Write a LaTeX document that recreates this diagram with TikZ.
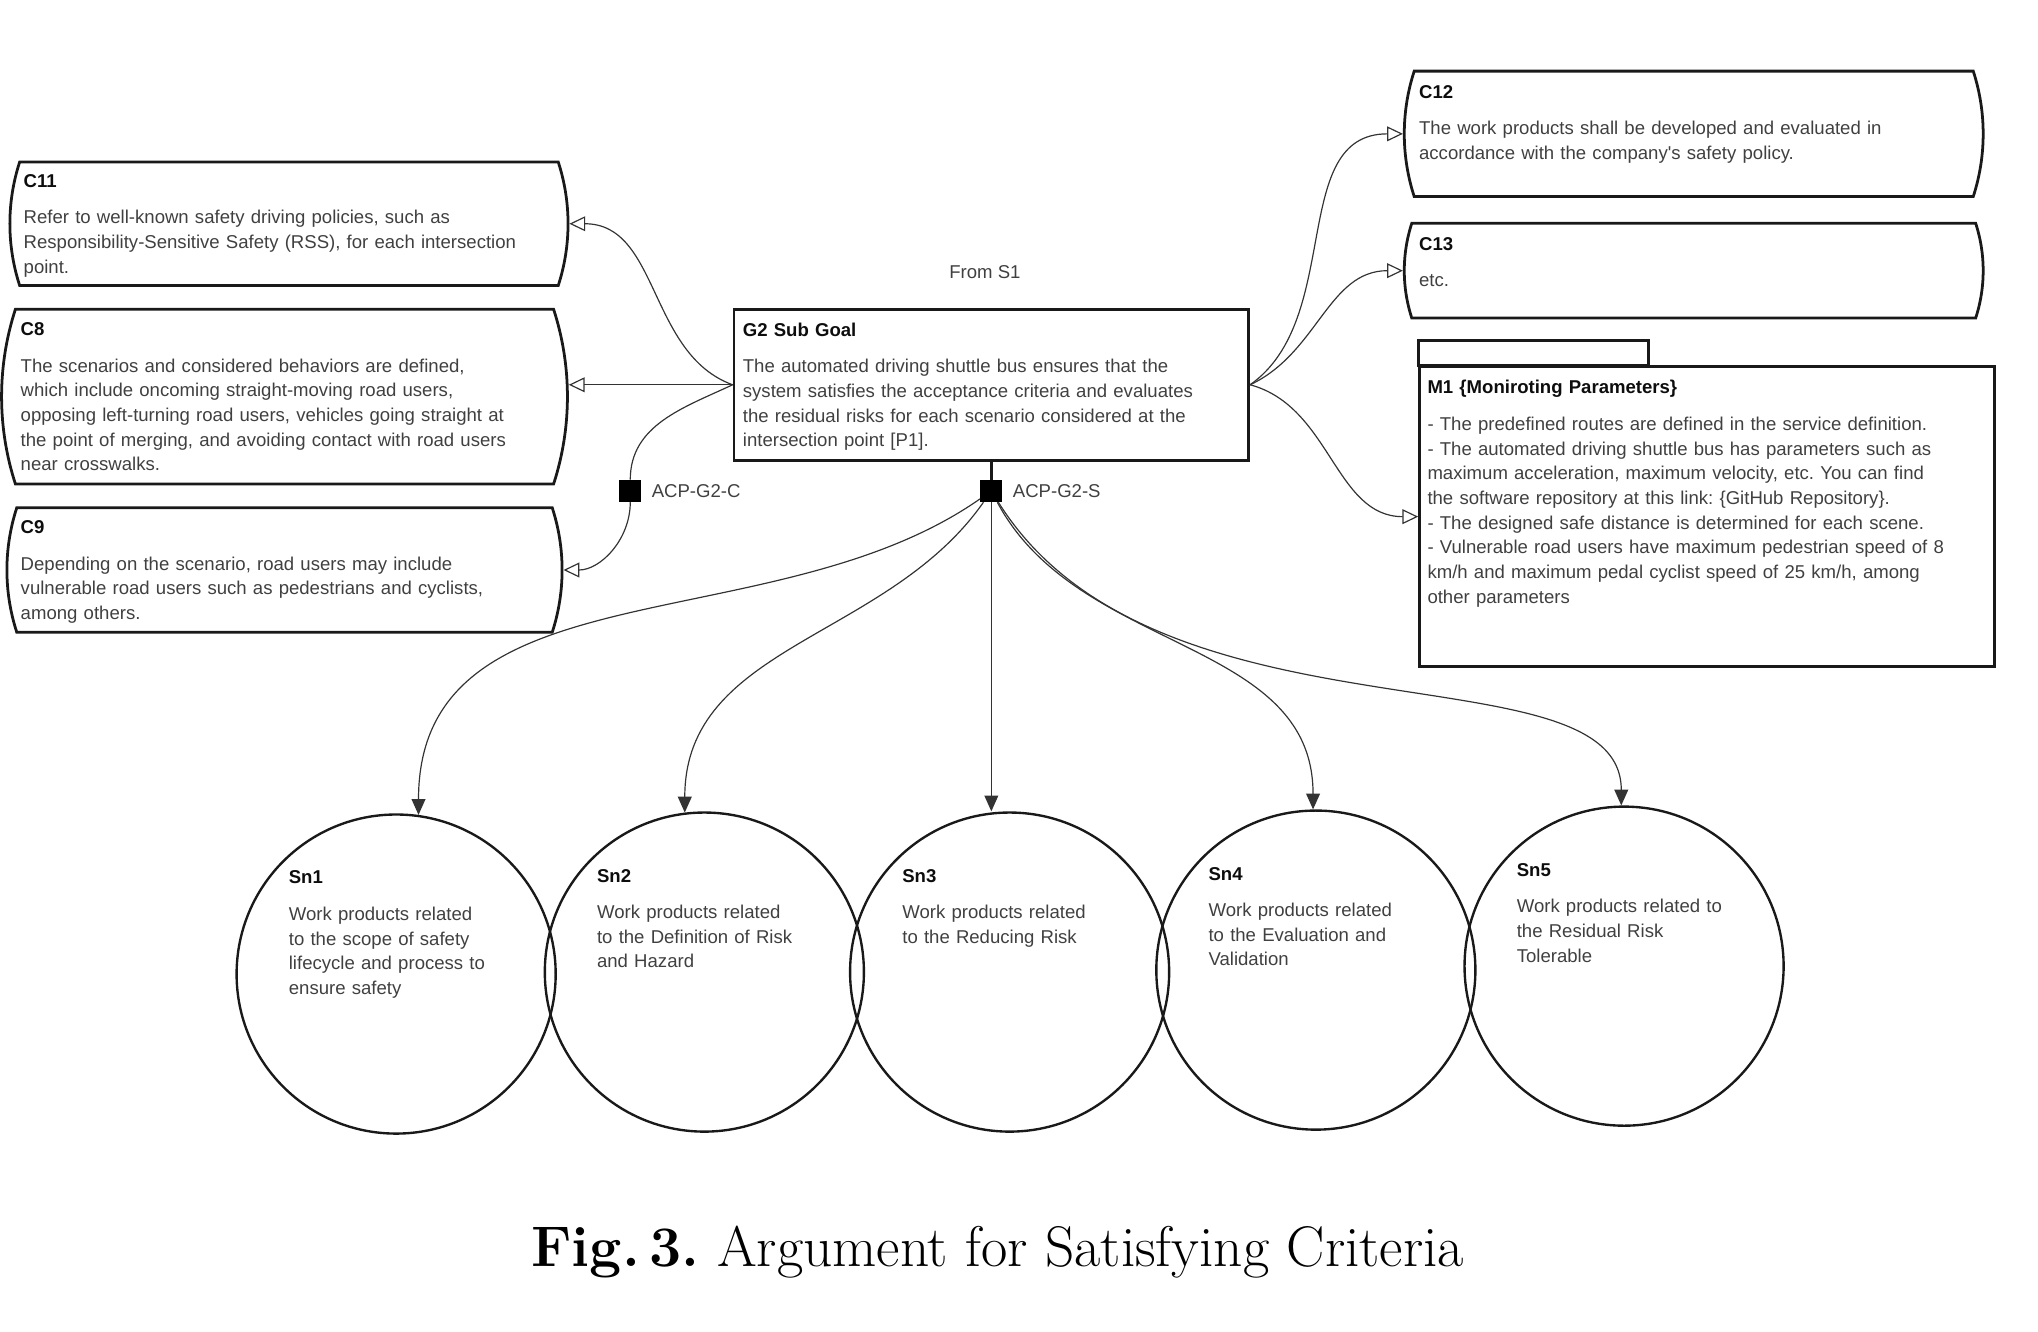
\documentclass[tikz,border=0pt]{standalone}
\usepackage{fontspec}
\usetikzlibrary{positioning,shapes.misc,arrows.meta}
\newfontfamily\gsnfont{Liberation Sans}
\newcommand{\gsnbody}[3][-12.5pt]{{\color{black!95}\bfseries #2}\\[6pt]#3\\[#1]\mbox{}}
\frenchspacing

\tikzset{every node/.style={font=\gsnfont\fontsize{9.4}{12.5}\selectfont, text=black!75}}
\tikzstyle{ctx}=[draw=black!90, line width=1.4pt, rounded rectangle, rounded rectangle arc length=36, inner xsep=0pt, inner ysep=3pt, align=left]
\tikzstyle{goal}=[draw=black!90, line width=1.4pt, rectangle, inner xsep=4.5pt, inner ysep=3pt, align=left]
\tikzstyle{sol}=[draw=black!90, line width=1.2pt, circle, minimum size=161.5pt, inner sep=0pt]
\tikzstyle{soltxt}=[anchor=north west, inner sep=0pt, text width=120pt, align=left]
\tikzstyle{acp}=[fill=black, rectangle, minimum size=11pt, inner sep=0pt]
\tikzstyle{lbl}=[inner sep=1pt]
\tikzstyle{incontext}=[draw=black!80, line width=0.6pt, -{Triangle[open, length=8pt, width=7.5pt]}]
\tikzstyle{support}=[draw=black!80, line width=0.6pt, -{Triangle[length=8pt, width=7pt]}]

\begin{document}
\begin{tikzpicture}[x=0.5pt, y=0.5pt]
\useasboundingbox (0,0) rectangle (2063,-1348);
\node [goal, minimum width=260.5pt, minimum height=76.5pt, text width=251.5pt] (g2) at (1003.5,-389.5)
    {\gsnbody{G2 Sub Goal}{The automated driving shuttle bus ensures that the\\system satisfies the acceptance criteria and evaluates\\the residual risks for each scenario considered at the\\intersection point [P1].}};
\node (from) at (997,-275) {From S1};

\node [ctx, minimum width=282.5pt, minimum height=62.5pt, text width=268.5pt] (c11) at (292.5,-226.5)
    {\gsnbody{C11}{Refer to well-known safety driving policies, such as\\Responsibility-Sensitive Safety (RSS), for each intersection\\point.}};
\node [ctx, minimum width=281pt, minimum height=88.5pt, text width=267pt] (c8) at (288,-401.5)
    {\gsnbody{C8}{The scenarios and considered behaviors are defined,\\which include oncoming straight-moving road users,\\opposing left-turning road users, vehicles going straight at\\the point of merging, and avoiding contact with road users\\near crosswalks.}};
\node [ctx, minimum width=281pt, minimum height=63pt, text width=267pt] (c9) at (288,-577)
    {\gsnbody{C9}{Depending on the scenario, road users may include\\vulnerable road users such as pedestrians and cyclists,\\among others.}};

\node [ctx, minimum width=293pt, minimum height=63.5pt, text width=278pt] (c12) at (1714.5,-135.5)
    {\gsnbody[-0.9pt]{C12}{The work products shall be developed and evaluated in\\accordance with the company's safety policy.}};
\node [ctx, minimum width=293pt, minimum height=48pt, text width=278pt] (c13) at (1714.5,-274)
    {\gsnbody[-3.9pt]{C13}{etc.}};
\node [goal, minimum width=291pt, minimum height=152pt, text width=283pt, inner xsep=4pt] (m1) at (1728,-523)
    {\gsnbody[12.6pt]{M1 \{Moniroting Parameters\}}{- The predefined routes are defined in the service definition.\\- The automated driving shuttle bus has parameters such as\\maximum acceleration, maximum velocity, etc. You can find\\the software repository at this link: \{GitHub Repository\}.\\- The designed safe distance is determined for each scene.\\- Vulnerable road users have maximum pedestrian speed of 8\\km/h and maximum pedal cyclist speed of 25 km/h, among\\other parameters}};
\draw [draw=black!90, line width=1.4pt] (m1.north west) rectangle ++(233,25);

\node [acp] (acpc) at (638,-497) {};
\node [lbl, right=4pt of acpc] (acpcl) {ACP-G2-C};
\node [acp] (acps) at (1003.5,-497) {};
\node [lbl, right=4pt of acps] (acpsl) {ACP-G2-S};

\node [sol] (sn1) at (401,-986) {};
\node [sol] (sn2) at (713,-984) {};
\node [sol] (sn3) at (1022,-984) {};
\node [sol] (sn4) at (1332,-982) {};
\node [sol] (sn5) at (1644,-978) {};
\node [soltxt] (sn1t) at ([shift={(-109,-58)}]sn1.north) {\gsnbody{Sn1}{Work products related\\to the scope of safety\\lifecycle and process to\\ensure safety}};
\node [soltxt] (sn2t) at ([shift={(-109,-58)}]sn2.north) {\gsnbody{Sn2}{Work products related\\to the Definition of Risk\\and Hazard}};
\node [soltxt] (sn3t) at ([shift={(-109,-58)}]sn3.north) {\gsnbody{Sn3}{Work products related\\to the Reducing Risk}};
\node [soltxt] (sn4t) at ([shift={(-109,-58)}]sn4.north) {\gsnbody{Sn4}{Work products related\\to the Evaluation and\\Validation}};
\node [soltxt] (sn5t) at ([shift={(-109,-58)}]sn5.north) {\gsnbody{Sn5}{Work products related to\\the Residual Risk\\Tolerable}};

\draw [incontext] (g2.west) to[out=160, in=0] (c11.east);
\draw [incontext] (g2.west) -- (g2.west -| c8.east);
\draw [incontext] (g2.west) to[out=205, in=90] (acpc) to[out=-90, in=0] (c9.east);
\draw [incontext] (g2.east) to[out=35, in=180] (c12.west);
\draw [incontext] (g2.east) to[out=25, in=180] (c13.west);
\draw [incontext] (g2.east) to[out=-15, in=180] (m1.west);
\draw [draw=black!90, line width=1.4pt] (g2.south) -- (acps);
\draw [support] (acps) to[out=-145, in=90] (sn1.82);
\draw [support] (acps) to[out=-125, in=90] (sn2.97);
\draw [support] (acps) -- (acps |- sn3.north);
\draw [support] (acps) to[out=-62, in=90] (sn4.91);
\draw [support] (acps) to[out=-58, in=90, out looseness=1.1, in looseness=0.6] (sn5.91);

\node [font=\rmfamily\fontsize{29}{34}\selectfont, text=black, anchor=base] (cap) at (1010,-1282) {\textbf{Fig.\,3.} Argument for Satisfying Criteria};
\end{tikzpicture}
\end{document}
